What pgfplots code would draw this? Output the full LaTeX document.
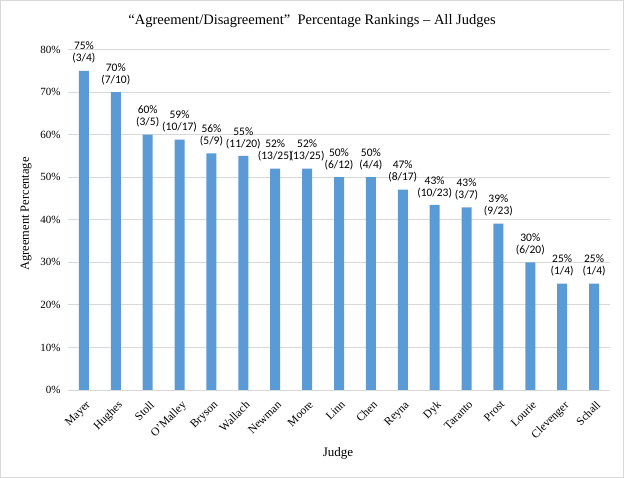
\documentclass[border=0pt]{standalone}
\usepackage{pgfplots}
\usepackage{pgfplotstable}
\pgfplotsset{compat=1.18}
\usepackage{fontspec}
\setmainfont{Liberation Serif}
\newfontfamily\carlito{Carlito}
\definecolor{barblue}{HTML}{5B9BD5}
\definecolor{gridgray}{HTML}{D9D9D9}
\pgfplotstableread{
x y lab
0 75 {75\%\\(3/4)}
1 70 {70\%\\(7/10)}
2 60 {60\%\\(3/5)}
3 58.8 {59\%\\(10/17)}
4 55.6 {56\%\\(5/9)}
5 55 {55\%\\(11/20)}
6 52 {52\%\\(13/25)}
7 52 {52\%\\(13/25)}
8 50 {50\%\\(6/12)}
9 50 {50\%\\(4/4)}
10 47.1 {47\%\\(8/17)}
11 43.5 {43\%\\(10/23)}
12 42.9 {43\%\\(3/7)}
13 39.1 {39\%\\(9/23)}
14 30 {30\%\\(6/20)}
15 25 {25\%\\(1/4)}
16 25 {25\%\\(1/4)}
}\datatable
\begin{document}
\begin{tikzpicture}[x=1pt,y=1pt]
\useasboundingbox (0,0) rectangle (624,478);
\draw[gridgray] (0.5,0.5) rectangle (623.5,477.5);
\begin{axis}[
  at={(68pt,88pt)}, anchor=south west,
  scale only axis, width=542pt, height=340.5pt,
  xmin=-0.5, xmax=16.5, ymin=0, ymax=80,
  ybar, bar width=10pt,
  axis line style={draw=none},
  major tick length=0pt,
  ymajorgrids, grid style={gridgray, line width=0.8pt},
  ytick={0,10,...,80},
  yticklabel={\pgfmathprintnumber{\tick}\%},
  /pgf/number format/assume math mode=true,
  yticklabel style={font=\fontsize{11}{12}\selectfont, xshift=-4pt},
  xtick={0,...,16},
  xticklabels={Mayer,Hughes,Stoll,O'Malley,Bryson,Wallach,Newman,Moore,Linn,Chen,Reyna,Dyk,Taranto,Prost,Lourie,Clevenger,Schall},
  xticklabel style={font=\fontsize{11.5}{12}\selectfont, rotate=45, anchor=north east, inner sep=1pt, xshift=-5pt, yshift=-7pt},
  point meta=explicit symbolic,
  nodes near coords,
  nodes near coords style={align=center, font=\carlito\fontsize{11.5}{12}\selectfont, inner sep=1pt, yshift=6pt, color=black},
]
\addplot[fill=barblue, draw=none] table[x=x, y=y, meta=lab] {\datatable};
\end{axis}
\node[font=\fontsize{14.5}{16}\selectfont] at (312,457) {``Agreement/Disagreement''\ \ Percentage Rankings -- All Judges};
\node[rotate=90, font=\fontsize{12.5}{14}\selectfont] at (26,264) {Agreement Percentage};
\node[font=\fontsize{13}{14}\selectfont] at (338,25) {Judge};
\end{tikzpicture}
\end{document}
